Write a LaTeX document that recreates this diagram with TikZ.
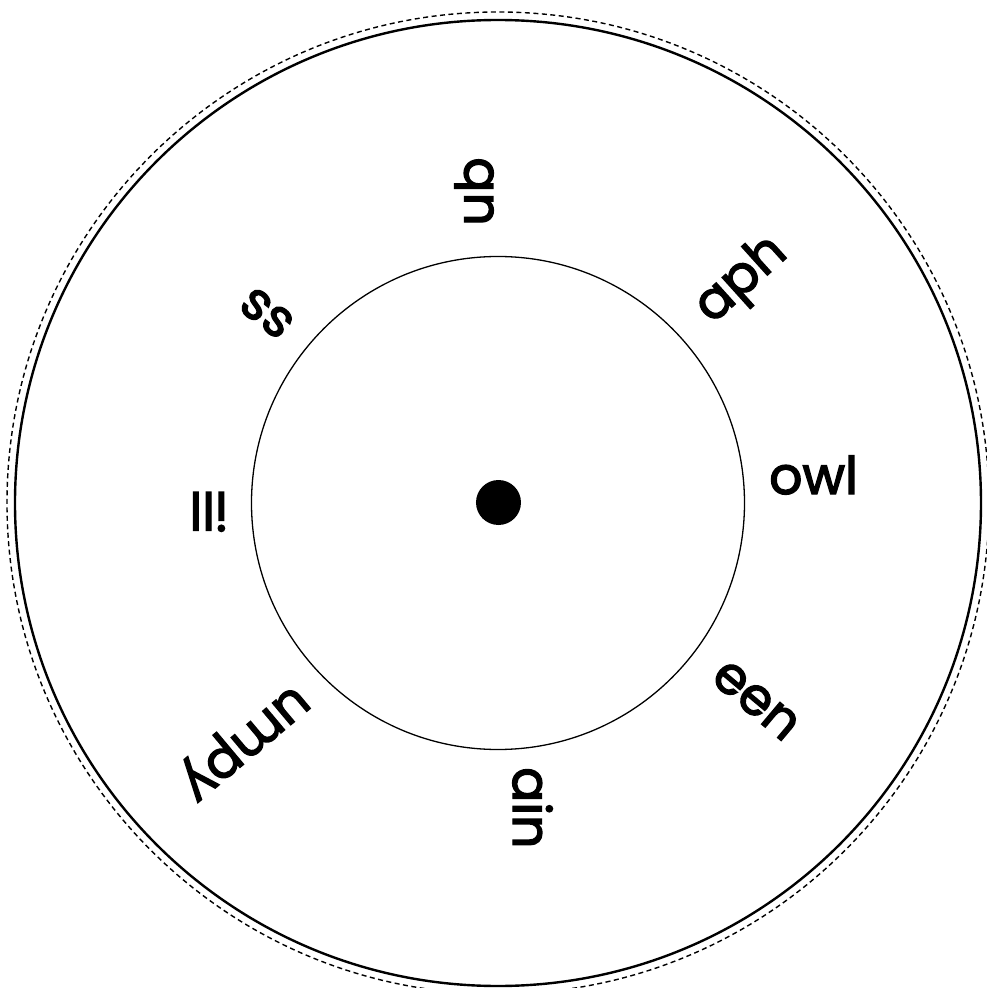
\documentclass[tikz,border=0pt]{standalone}
\usepackage{fontspec}
\setmainfont{Poppins}
\newfontfamily\wordfont{Poppins}[FakeBold=2.6]
\begin{document}
\begin{tikzpicture}[x=1pt,y=1pt,
  word/.style={inner sep=0pt, anchor=base west, font=\wordfont\fontsize{52}{58}\selectfont, text=black},
  hubdot/.style={circle, fill=black, minimum size=45pt, inner sep=0pt}]
\useasboundingbox (-498,-485) rectangle (488,503);
\coordinate (c) at (0,0);
\draw[line width=1.4pt, dash pattern=on 5pt off 3.5pt] (c) circle[radius=491];
\draw[line width=2.4pt] (c) circle[radius=483];
\draw[line width=1.3pt] (c) circle[radius=246.5];
\node[hubdot] (hub) at (0.5,0.5) {};
\node[word, rotate=90] (w1) at (-5,277) {ub};
\node[word, rotate=42] (w2) at (214,178) {aph};
\node[word, rotate=0] (w3) at (271,9) {owl};
\node[word, rotate=-40] (w4) at (211,-177) {een};
\node[word, rotate=-90] (w5) at (15,-264) {ain};
\node[word, rotate=220] (w6) at (-203,-181) {umpy};
\node[word, rotate=180] (w7) at (-270,11) {ill};
\node[word, rotate=142] (w8) at (-201,184) {ss};
\end{tikzpicture}
\end{document}
